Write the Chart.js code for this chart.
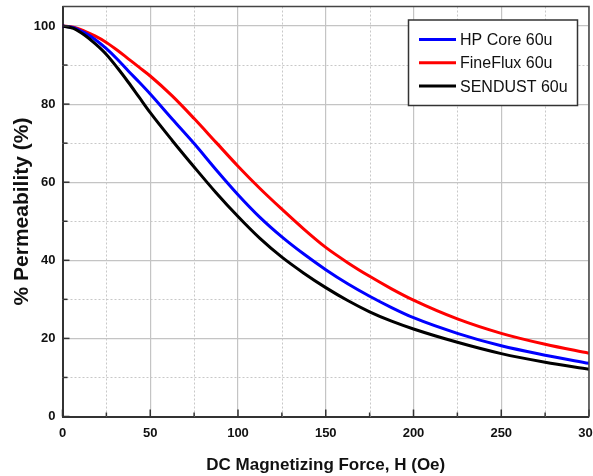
<!DOCTYPE html>
<html>
<head>
<meta charset="utf-8">
<script src="https://cdn.jsdelivr.net/npm/chart.js@4.4.1/dist/chart.umd.min.js"></script>
<style>
  html, body { margin: 0; padding: 0; background: #fff; overflow: hidden; }
  #wrap { width: 593px; height: 476px; position: relative; }
</style>
</head>
<body>
<div id="wrap"><canvas id="chart"></canvas></div>
<script>
// DC bias curves
const fieldH = [0, 6.25, 12.5, 18.75, 25, 31.25, 37.5, 43.75, 50, 62.5, 75, 87.5, 100, 112.5, 125, 137.5, 150, 162.5, 175, 187.5, 200, 225, 250, 275, 300];
const hpCore = [100, 99.6, 98.3, 96.5, 94.2, 91.5, 88.5, 85.6, 82.6, 76.2, 69.9, 63.2, 56.8, 51.0, 46.0, 41.6, 37.6, 34.0, 30.8, 27.9, 25.3, 21.3, 18.1, 15.7, 13.6];
const fineFlux = [100, 99.7, 98.7, 97.4, 95.8, 93.8, 91.6, 89.4, 87.2, 82.1, 76.3, 70.2, 64.1, 58.4, 53.1, 48.0, 43.3, 39.4, 35.9, 32.7, 29.8, 25.0, 21.3, 18.5, 16.2];
const sendust = [100, 99.4, 97.7, 95.4, 92.7, 89.3, 85.6, 81.7, 77.8, 70.7, 63.9, 57.3, 51.2, 45.6, 40.8, 36.7, 33.0, 29.7, 26.8, 24.4, 22.4, 19.0, 16.1, 13.9, 12.1];

const seriesNames = ["HP Core 60u", "FineFlux 60u", "SENDUST 60u"];
const seriesColors = ["#0000ff", "#ff0000", "#000000"];

const FONT = "'Liberation Sans', Arial, sans-serif";

function toPoints(values) {
  return fieldH.map((h, i) => ({ x: h, y: values[i] }));
}

// dotted minor grid, inner tick marks, top/right frame and the boxed legend
const decorPlugin = {
  id: "decor",
  beforeDatasetsDraw(chart) {
    const { ctx, chartArea: a, scales: { x, y } } = chart;
    ctx.save();
    ctx.strokeStyle = "#c8c8c8";
    ctx.lineWidth = 1;
    ctx.setLineDash([2, 2]);
    for (const t of x.ticks) {
      if (t.value % 50 === 0) continue;
      const px = Math.round(x.getPixelForValue(t.value)) + 0.5;
      ctx.beginPath(); ctx.moveTo(px, a.top); ctx.lineTo(px, a.bottom); ctx.stroke();
    }
    for (const t of y.ticks) {
      if (t.value % 20 === 0) continue;
      const py = Math.round(y.getPixelForValue(t.value)) + 0.5;
      ctx.beginPath(); ctx.moveTo(a.left, py); ctx.lineTo(a.right, py); ctx.stroke();
    }
    ctx.restore();
  },
  afterDatasetsDraw(chart) {
    const { ctx, chartArea: a, scales: { x, y } } = chart;
    ctx.save();
    // ticks pointing into the plot
    ctx.strokeStyle = "#333";
    ctx.lineWidth = 1.5;
    for (const t of x.ticks) {
      const px = x.getPixelForValue(t.value);
      const len = t.value % 50 === 0 ? 7 : 4;
      ctx.beginPath(); ctx.moveTo(px, a.bottom); ctx.lineTo(px, a.bottom - len); ctx.stroke();
    }
    for (const t of y.ticks) {
      const py = y.getPixelForValue(t.value);
      const len = t.value % 20 === 0 ? 7 : 5;
      ctx.beginPath(); ctx.moveTo(a.left, py); ctx.lineTo(a.left + len, py); ctx.stroke();
    }
    // top and right frame
    ctx.strokeStyle = "#444";
    ctx.lineWidth = 1.5;
    ctx.beginPath();
    ctx.moveTo(a.left, a.top);
    ctx.lineTo(a.right, a.top);
    ctx.lineTo(a.right, a.bottom);
    ctx.stroke();

    // legend
    const bx = 408.5, by = 20, bw = 169, bh = 85.5;
    ctx.fillStyle = "#fff";
    ctx.fillRect(bx, by, bw, bh);
    ctx.strokeStyle = "#333";
    ctx.lineWidth = 1.5;
    ctx.strokeRect(bx, by, bw, bh);
    ctx.font = "16px " + FONT;
    ctx.textBaseline = "middle";
    chart.data.datasets.forEach((ds, i) => {
      const ry = 39.5 + i * 23.3;
      ctx.strokeStyle = ds.borderColor;
      ctx.lineWidth = 3;
      ctx.beginPath(); ctx.moveTo(419, ry); ctx.lineTo(456, ry); ctx.stroke();
      ctx.fillStyle = "#111";
      ctx.fillText(ds.label, 460, ry + 1);
    });
    ctx.restore();
  },
};

const ctx = document.getElementById("chart").getContext("2d");
new Chart(ctx, {
  type: "line",
  data: {
    datasets: [
      { label: seriesNames[0], data: toPoints(hpCore), borderColor: seriesColors[0], order: 1 },
      { label: seriesNames[1], data: toPoints(fineFlux), borderColor: seriesColors[1], order: 2 },
      { label: seriesNames[2], data: toPoints(sendust), borderColor: seriesColors[2], order: 0 },
    ].map((d) => ({
      ...d,
      borderWidth: 3,
      pointRadius: 0,
      fill: false,
      cubicInterpolationMode: "monotone",
    })),
  },
  options: {
    responsive: true,
    maintainAspectRatio: false,
    animation: false,
    layout: { padding: { top: 6.5, right: 0, bottom: 0, left: 0 } },
    plugins: {
      legend: { display: false },
      tooltip: { enabled: false },
    },
    scales: {
      x: {
        type: "linear",
        min: 0,
        max: 300,
        afterFit(scale) {
          scale.height = 59.5;
          scale.paddingLeft = 0;
          scale.paddingRight = 4;
        },
        ticks: {
          stepSize: 25,
          autoSkip: false,
          maxRotation: 0,
          padding: 9,
          color: "#111",
          font: { family: FONT, size: 13, weight: "bold" },
          callback: (v) => (v % 50 === 0 ? String(v) : ""),
        },
        grid: {
          drawTicks: false,
          lineWidth: 1.2,
          color: (c) => (c.tick && c.tick.value % 50 === 0 ? "#c4c4c4" : "rgba(0,0,0,0)"),
        },
        border: { color: "#333", width: 2 },
        title: {
          display: true,
          text: "DC Magnetizing Force, H (Oe)",
          color: "#111",
          font: { family: FONT, size: 17, weight: "bold" },
          padding: { top: 0, bottom: 0 },
        },
      },
      y: {
        min: 0,
        max: 105,
        afterFit(scale) {
          scale.width = 62.5;
          scale.paddingTop = 0;
          scale.paddingBottom = 0;
        },
        ticks: {
          stepSize: 10,
          includeBounds: false,
          padding: 7,
          color: "#111",
          font: { family: FONT, size: 13, weight: "bold" },
          callback: (v) => (v % 20 === 0 ? String(v) : ""),
        },
        grid: {
          drawTicks: false,
          lineWidth: 1.2,
          color: (c) => (c.tick && c.tick.value % 20 === 0 ? "#c4c4c4" : "rgba(0,0,0,0)"),
        },
        border: { color: "#333", width: 2 },
        title: {
          display: true,
          text: "% Permeability (%)",
          color: "#111",
          font: { family: FONT, size: 21, weight: "bold" },
          padding: { top: 10, bottom: 0 },
        },
      },
    },
  },
  plugins: [decorPlugin],
});
</script>
</body>
</html>
